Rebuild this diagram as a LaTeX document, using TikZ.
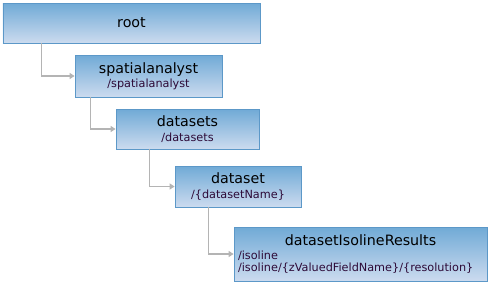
\documentclass[tikz,border=0pt]{standalone}
\usepackage{fontspec}
\setmainfont{DejaVu Sans}
\usetikzlibrary{positioning, arrows.meta, calc}
\definecolor{boxtop}{RGB}{112,170,214}
\definecolor{boxbottom}{RGB}{204,219,239}
\definecolor{boxline}{RGB}{92,152,200}
\definecolor{pathtext}{RGB}{45,10,55}
\definecolor{linkgray}{RGB}{180,180,180}
\newcommand{\restitle}[1]{{\fontsize{14.3}{16}\selectfont #1}}
\newcommand{\respath}[1]{{\fontsize{11.3}{13}\selectfont\color{pathtext}#1}}

\begin{document}
\begin{tikzpicture}[x=1bp, y=-1bp,
  resbox/.style={draw=boxline, line width=0.8pt, top color=boxtop, bottom color=boxbottom,
    inner sep=0pt, align=center},
  link/.style={draw=linkgray, line width=1.6pt, -{Triangle[length=5bp, width=6bp]}}]
\useasboundingbox (0,0) rectangle (488,283);

% boxes
\node[resbox, minimum width=257bp, minimum height=40bp] (root) at (131.5,23) {\restitle{root}};
\node[resbox, minimum width=147bp, minimum height=42bp] (spatial) at (148.5,76)
  {\restitle{spatialanalyst}\\[2.5pt]\respath{/spatialanalyst}};
\node[resbox, minimum width=143bp, minimum height=40bp] (sets) at (187.5,129)
  {\restitle{datasets}\\[2.5pt]\respath{/datasets}};
\node[resbox, minimum width=126bp, minimum height=41bp] (set) at (238,186.5)
  {\restitle{dataset}\\[2.5pt]\respath{/\{datasetName\}}};
\node[resbox, align=left, minimum width=253bp, minimum height=54bp, text width=245bp] (iso) at (360.5,254)
  {\makebox[245bp]{\restitle{datasetIsolineResults}}\\[2pt]%
   \respath{/isoline}\\[1pt]%
   \respath{/isoline/\{zValuedFieldName\}/\{resolution\}}};

% links
\draw[link] ($(root.south west)+(38.7,0)$) |- (spatial.west);
\draw[link] ($(spatial.south west)+(15.7,0)$) |- (sets.west);
\draw[link] ($(sets.south west)+(34,0)$) |- (set.west);
\draw[link] ($(set.south west)+(34,0)$) |- (iso.west);
\end{tikzpicture}
\end{document}
